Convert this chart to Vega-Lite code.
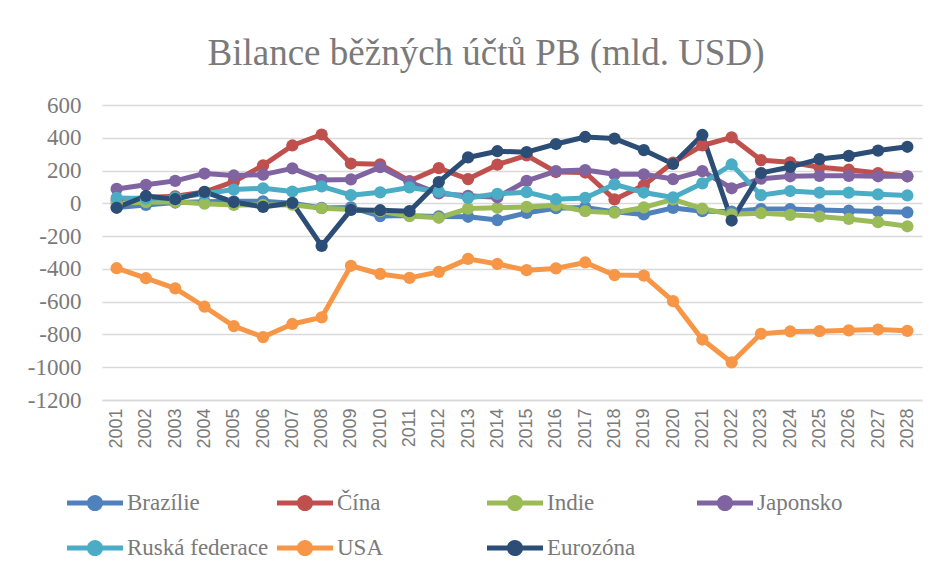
{
  "$schema": "https://vega.github.io/schema/vega-lite/v6.json",
  "autosize": "none",
  "width": 820,
  "height": 295,
  "padding": {"left": 102, "top": 105, "right": 30, "bottom": 173},
  "background": "white",
  "title": {
    "text": "Bilance běžných účtů PB (mld. USD)",
    "font": "Liberation Serif",
    "fontSize": 37,
    "fontWeight": "normal",
    "color": "#7a7a7a",
    "anchor": "middle",
    "dx": -26,
    "offset": 21
  },
  "config": {
    "view": {"stroke": null},
    "axisY": {"labelFont": "Liberation Serif", "labelFontSize": 23, "labelColor": "#7a7a7a"},
    "axisX": {"labelFont": "Liberation Sans", "labelFontSize": 18, "labelColor": "#7a7a7a"}
  },
  "data": {"values": [
    {"year":"2001","series":"Brazílie","value":-25},{"year":"2002","series":"Brazílie","value":-10},{"year":"2003","series":"Brazílie","value":5},{"year":"2004","series":"Brazílie","value":10},{"year":"2005","series":"Brazílie","value":12},{"year":"2006","series":"Brazílie","value":12},{"year":"2007","series":"Brazílie","value":0},{"year":"2008","series":"Brazílie","value":-28},{"year":"2009","series":"Brazílie","value":-25},{"year":"2010","series":"Brazílie","value":-78},{"year":"2011","series":"Brazílie","value":-75},{"year":"2012","series":"Brazílie","value":-80},{"year":"2013","series":"Brazílie","value":-82},{"year":"2014","series":"Brazílie","value":-102},{"year":"2015","series":"Brazílie","value":-58},{"year":"2016","series":"Brazílie","value":-30},{"year":"2017","series":"Brazílie","value":-25},{"year":"2018","series":"Brazílie","value":-52},{"year":"2019","series":"Brazílie","value":-68},{"year":"2020","series":"Brazílie","value":-28},{"year":"2021","series":"Brazílie","value":-48},{"year":"2022","series":"Brazílie","value":-50},{"year":"2023","series":"Brazílie","value":-35},{"year":"2024","series":"Brazílie","value":-35},{"year":"2025","series":"Brazílie","value":-40},{"year":"2026","series":"Brazílie","value":-45},{"year":"2027","series":"Brazílie","value":-50},{"year":"2028","series":"Brazílie","value":-55},
    {"year":"2001","series":"Čína","value":17},{"year":"2002","series":"Čína","value":35},{"year":"2003","series":"Čína","value":43},{"year":"2004","series":"Čína","value":69},{"year":"2005","series":"Čína","value":132},{"year":"2006","series":"Čína","value":232},{"year":"2007","series":"Čína","value":353},{"year":"2008","series":"Čína","value":420},{"year":"2009","series":"Čína","value":243},{"year":"2010","series":"Čína","value":238},{"year":"2011","series":"Čína","value":136},{"year":"2012","series":"Čína","value":215},{"year":"2013","series":"Čína","value":148},{"year":"2014","series":"Čína","value":236},{"year":"2015","series":"Čína","value":293},{"year":"2016","series":"Čína","value":191},{"year":"2017","series":"Čína","value":188},{"year":"2018","series":"Čína","value":24},{"year":"2019","series":"Čína","value":110},{"year":"2020","series":"Čína","value":249},{"year":"2021","series":"Čína","value":353},{"year":"2022","series":"Čína","value":402},{"year":"2023","series":"Čína","value":264},{"year":"2024","series":"Čína","value":250},{"year":"2025","series":"Čína","value":220},{"year":"2026","series":"Čína","value":205},{"year":"2027","series":"Čína","value":185},{"year":"2028","series":"Čína","value":165},
    {"year":"2001","series":"Indie","value":1},{"year":"2002","series":"Indie","value":7},{"year":"2003","series":"Indie","value":9},{"year":"2004","series":"Indie","value":-2},{"year":"2005","series":"Indie","value":-10},{"year":"2006","series":"Indie","value":-10},{"year":"2007","series":"Indie","value":-8},{"year":"2008","series":"Indie","value":-30},{"year":"2009","series":"Indie","value":-38},{"year":"2010","series":"Indie","value":-48},{"year":"2011","series":"Indie","value":-78},{"year":"2012","series":"Indie","value":-88},{"year":"2013","series":"Indie","value":-32},{"year":"2014","series":"Indie","value":-27},{"year":"2015","series":"Indie","value":-22},{"year":"2016","series":"Indie","value":-12},{"year":"2017","series":"Indie","value":-48},{"year":"2018","series":"Indie","value":-57},{"year":"2019","series":"Indie","value":-25},{"year":"2020","series":"Indie","value":24},{"year":"2021","series":"Indie","value":-33},{"year":"2022","series":"Indie","value":-67},{"year":"2023","series":"Indie","value":-60},{"year":"2024","series":"Indie","value":-70},{"year":"2025","series":"Indie","value":-80},{"year":"2026","series":"Indie","value":-95},{"year":"2027","series":"Indie","value":-115},{"year":"2028","series":"Indie","value":-140},
    {"year":"2001","series":"Japonsko","value":88},{"year":"2002","series":"Japonsko","value":113},{"year":"2003","series":"Japonsko","value":137},{"year":"2004","series":"Japonsko","value":182},{"year":"2005","series":"Japonsko","value":170},{"year":"2006","series":"Japonsko","value":175},{"year":"2007","series":"Japonsko","value":213},{"year":"2008","series":"Japonsko","value":143},{"year":"2009","series":"Japonsko","value":146},{"year":"2010","series":"Japonsko","value":221},{"year":"2011","series":"Japonsko","value":130},{"year":"2012","series":"Japonsko","value":60},{"year":"2013","series":"Japonsko","value":46},{"year":"2014","series":"Japonsko","value":37},{"year":"2015","series":"Japonsko","value":137},{"year":"2016","series":"Japonsko","value":197},{"year":"2017","series":"Japonsko","value":203},{"year":"2018","series":"Japonsko","value":177},{"year":"2019","series":"Japonsko","value":177},{"year":"2020","series":"Japonsko","value":148},{"year":"2021","series":"Japonsko","value":197},{"year":"2022","series":"Japonsko","value":92},{"year":"2023","series":"Japonsko","value":150},{"year":"2024","series":"Japonsko","value":165},{"year":"2025","series":"Japonsko","value":168},{"year":"2026","series":"Japonsko","value":168},{"year":"2027","series":"Japonsko","value":165},{"year":"2028","series":"Japonsko","value":165},
    {"year":"2001","series":"Ruská federace","value":33},{"year":"2002","series":"Ruská federace","value":29},{"year":"2003","series":"Ruská federace","value":35},{"year":"2004","series":"Ruská federace","value":59},{"year":"2005","series":"Ruská federace","value":84},{"year":"2006","series":"Ruská federace","value":92},{"year":"2007","series":"Ruská federace","value":72},{"year":"2008","series":"Ruská federace","value":103},{"year":"2009","series":"Ruská federace","value":50},{"year":"2010","series":"Ruská federace","value":67},{"year":"2011","series":"Ruská federace","value":97},{"year":"2012","series":"Ruská federace","value":71},{"year":"2013","series":"Ruská federace","value":33},{"year":"2014","series":"Ruská federace","value":58},{"year":"2015","series":"Ruská federace","value":68},{"year":"2016","series":"Ruská federace","value":25},{"year":"2017","series":"Ruská federace","value":33},{"year":"2018","series":"Ruská federace","value":116},{"year":"2019","series":"Ruská federace","value":66},{"year":"2020","series":"Ruská federace","value":36},{"year":"2021","series":"Ruská federace","value":122},{"year":"2022","series":"Ruská federace","value":237},{"year":"2023","series":"Ruská federace","value":50},{"year":"2024","series":"Ruská federace","value":75},{"year":"2025","series":"Ruská federace","value":65},{"year":"2026","series":"Ruská federace","value":65},{"year":"2027","series":"Ruská federace","value":55},{"year":"2028","series":"Ruská federace","value":48},
    {"year":"2001","series":"USA","value":-396},{"year":"2002","series":"USA","value":-457},{"year":"2003","series":"USA","value":-519},{"year":"2004","series":"USA","value":-631},{"year":"2005","series":"USA","value":-749},{"year":"2006","series":"USA","value":-816},{"year":"2007","series":"USA","value":-736},{"year":"2008","series":"USA","value":-696},{"year":"2009","series":"USA","value":-381},{"year":"2010","series":"USA","value":-431},{"year":"2011","series":"USA","value":-455},{"year":"2012","series":"USA","value":-418},{"year":"2013","series":"USA","value":-339},{"year":"2014","series":"USA","value":-370},{"year":"2015","series":"USA","value":-408},{"year":"2016","series":"USA","value":-397},{"year":"2017","series":"USA","value":-361},{"year":"2018","series":"USA","value":-438},{"year":"2019","series":"USA","value":-441},{"year":"2020","series":"USA","value":-597},{"year":"2021","series":"USA","value":-831},{"year":"2022","series":"USA","value":-971},{"year":"2023","series":"USA","value":-796},{"year":"2024","series":"USA","value":-782},{"year":"2025","series":"USA","value":-780},{"year":"2026","series":"USA","value":-775},{"year":"2027","series":"USA","value":-770},{"year":"2028","series":"USA","value":-778},
    {"year":"2001","series":"Eurozóna","value":-27},{"year":"2002","series":"Eurozóna","value":45},{"year":"2003","series":"Eurozóna","value":25},{"year":"2004","series":"Eurozóna","value":70},{"year":"2005","series":"Eurozóna","value":8},{"year":"2006","series":"Eurozóna","value":-22},{"year":"2007","series":"Eurozóna","value":3},{"year":"2008","series":"Eurozóna","value":-260},{"year":"2009","series":"Eurozóna","value":-40},{"year":"2010","series":"Eurozóna","value":-42},{"year":"2011","series":"Eurozóna","value":-48},{"year":"2012","series":"Eurozóna","value":130},{"year":"2013","series":"Eurozóna","value":280},{"year":"2014","series":"Eurozóna","value":318},{"year":"2015","series":"Eurozóna","value":312},{"year":"2016","series":"Eurozóna","value":362},{"year":"2017","series":"Eurozóna","value":405},{"year":"2018","series":"Eurozóna","value":395},{"year":"2019","series":"Eurozóna","value":325},{"year":"2020","series":"Eurozóna","value":240},{"year":"2021","series":"Eurozóna","value":417},{"year":"2022","series":"Eurozóna","value":-105},{"year":"2023","series":"Eurozóna","value":185},{"year":"2024","series":"Eurozóna","value":222},{"year":"2025","series":"Eurozóna","value":270},{"year":"2026","series":"Eurozóna","value":290},{"year":"2027","series":"Eurozóna","value":322},{"year":"2028","series":"Eurozóna","value":345}
  ]},
  "encoding": {
    "x": {
      "field": "year", "type": "ordinal",
      "scale": {"type": "point", "padding": 0.5},
      "axis": {
        "title": null, "labelAngle": 270, "labelFont": "Liberation Sans", "labelFontSize": 18,
        "labelColor": "#7a7a7a", "labelPadding": 8, "ticks": false,
        "domain": true, "domainColor": "#d9d9d9", "domainWidth": 1.5, "grid": false
      }
    },
    "y": {
      "field": "value", "type": "quantitative",
      "scale": {"domain": [-1200, 600], "nice": false, "zero": false},
      "axis": {
        "title": null, "values": [-1200,-1000,-800,-600,-400,-200,0,200,400,600],
        "labelExpr": "'' + datum.value",
        "labelFont": "Liberation Serif", "labelFontSize": 23, "labelColor": "#7a7a7a",
        "labelPadding": 21, "ticks": false, "domain": false,
        "grid": true, "gridColor": "#d9d9d9", "gridWidth": 1.5
      }
    },
    "color": {
      "field": "series", "type": "nominal",
      "scale": {
        "domain": ["Brazílie","Čína","Indie","Japonsko","Ruská federace","USA","Eurozóna"],
        "range": ["#4F81BD","#C0504D","#9BBB59","#8064A2","#4BACC6","#F79646","#2C4D75"]
      },
      "legend": {
        "title": null,
        "orient": "none",
        "legendX": -35,
        "legendY": 370,
        "direction": "horizontal",
        "columns": 4,
        "gridAlign": "all",
        "columnPadding": 8,
        "rowPadding": 5,
        "symbolType": "M-1,-0.09L1,-0.09L1,0.09L-1,0.09Z M0.29,0A0.29,0.29,0,1,1,-0.29,0A0.29,0.29,0,1,1,0.29,0Z",
        "symbolSize": 3136,
        "symbolStrokeWidth": 0,
        "labelFont": "Liberation Serif",
        "labelFontSize": 23,
        "labelColor": "#7a7a7a",
        "labelOffset": 4,
        "labelLimit": 300,
        "encode": {"symbols": {"update": {"fill": {"scale": "color", "field": "value"}, "opacity": {"value": 1}, "fillOpacity": {"value": 1}}}}
      }
    }
  },
  "layer": [
    {"mark": {"type": "line", "strokeWidth": 5, "strokeJoin": "round"}},
    {"mark": {"type": "point", "filled": true, "size": 150, "opacity": 1}}
  ]
}
